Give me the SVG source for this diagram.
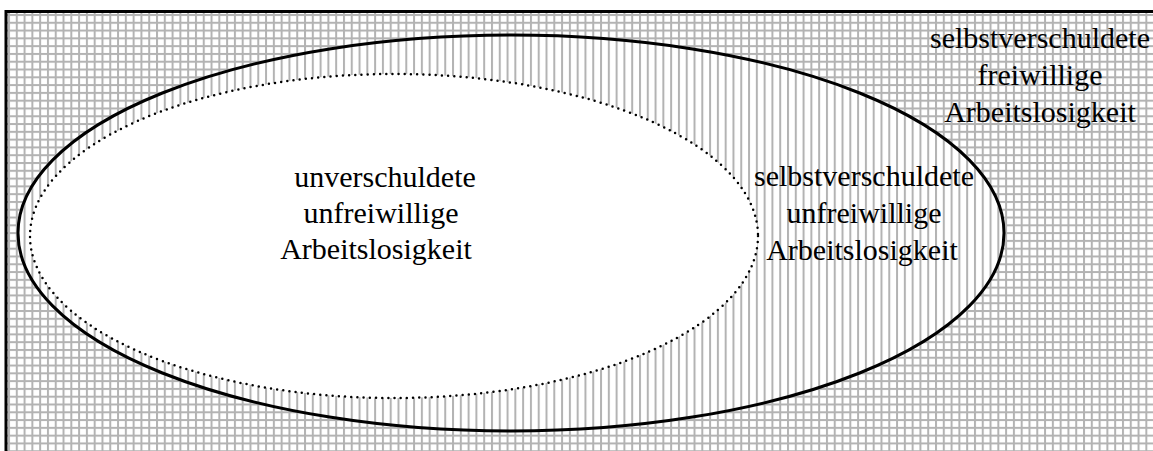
<svg xmlns="http://www.w3.org/2000/svg" width="1153" height="451" viewBox="0 0 1153 451">
<style>
text{font-family:"Liberation Serif","Times New Roman",serif;font-size:30px;fill:#000;text-anchor:middle}
</style>
<defs>
<pattern id="vl" patternUnits="userSpaceOnUse" x="8" y="0" width="7.79" height="20">
<rect x="0" y="0" width="2" height="20" fill="#b3b3b3"/>
</pattern>
<pattern id="hl" patternUnits="userSpaceOnUse" x="0" y="14" width="20" height="7.79">
<rect x="0" y="0" width="20" height="2" fill="#b3b3b3"/>
</pattern>
<mask id="outside">
<rect x="0" y="0" width="1153" height="451" fill="#fff"/>
<ellipse cx="511" cy="233" rx="493" ry="198" fill="#000"/>
</mask>
</defs>
<rect x="0" y="0" width="1153" height="451" fill="#fff"/>
<g id="background">
<rect x="6" y="12" width="1147" height="439" fill="url(#vl)"/>
<rect x="6" y="12" width="1147" height="439" fill="url(#hl)" mask="url(#outside)"/>
<path d="M6 451V11.5H1153" fill="none" stroke="#000" stroke-width="3"/>
</g>
<g id="outer">
<ellipse cx="511" cy="233" rx="493" ry="198" fill="none" stroke="#000" stroke-width="3"/>
</g>
<g id="inner">
<ellipse cx="394" cy="236" rx="364" ry="162" fill="#fff"/>
<ellipse cx="394" cy="236" rx="364" ry="162" fill="none" stroke="#000" stroke-width="2.5" stroke-linecap="round" stroke-dasharray="0 6.2"/>
</g>
<g id="labels">
<text x="385" y="187">unverschuldete</text>
<text x="381" y="223">unfreiwillige</text>
<text x="376" y="259">Arbeitslosigkeit</text>
<text x="864" y="186">selbstverschuldete</text>
<text x="864" y="223">unfreiwillige</text>
<text x="862" y="260">Arbeitslosigkeit</text>
<text x="1040" y="48">selbstverschuldete</text>
<text x="1040" y="85">freiwillige</text>
<text x="1040" y="122">Arbeitslosigkeit</text>
</g>
</svg>
